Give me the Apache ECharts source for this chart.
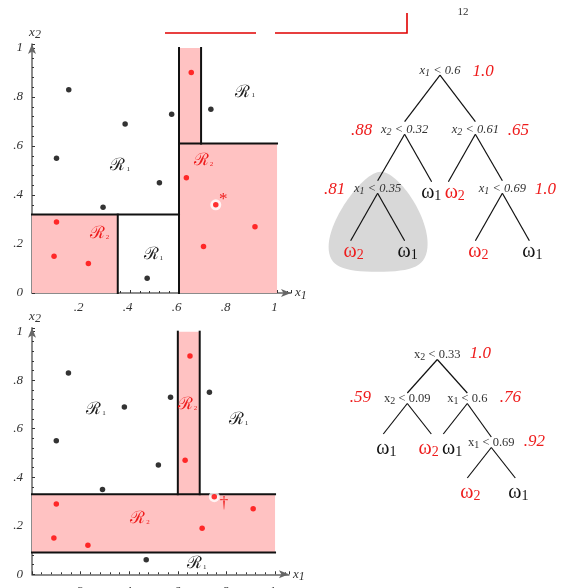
<!DOCTYPE html>
<html>
<head>
<meta charset="utf-8">
<script src="https://cdn.jsdelivr.net/npm/echarts@6/dist/echarts.min.js"></script>
<style>
  html, body { margin: 0; padding: 0; background: #fff; }
  #chart { width: 570px; height: 588px; }
</style>
</head>
<body>
<div id="chart"></div>
<script>
// ---- training samples (x1, x2) ----
const blackX = [0.15, 0.38, 0.10, 0.57, 0.73, 0.52, 0.29, 0.47];
const blackY = [0.83, 0.69, 0.55, 0.73, 0.75, 0.45, 0.35, 0.06];
const redX   = [0.65, 0.63, 0.91, 0.70, 0.10, 0.09, 0.23];
const redY   = [0.90, 0.47, 0.27, 0.19, 0.29, 0.15, 0.12];
// the one red sample that differs between the two data sets
const movedTop    = [0.75, 0.36];
const movedBottom = [0.75, 0.32];

// ---- decision regions: class-2 rectangles [x1min, x2min, x1max, x2max] ----
const regionsTop    = [[0, 0, 0.35, 0.32], [0.6, 0, 1, 0.61], [0.6, 0.61, 0.69, 1]];
const regionsBottom = [[0, 0.09, 1, 0.33], [0.6, 0.33, 0.69, 1]];
// ---- split boundaries [x1a, x2a, x1b, x2b] ----
const splitsTop = [[0, 0.32, 0.6, 0.32], [0.35, 0, 0.35, 0.32], [0.6, 0, 0.6, 1],
                   [0.6, 0.61, 1, 0.61], [0.69, 0.61, 0.69, 1]];
const splitsBottom = [[0, 0.33, 1, 0.33], [0, 0.09, 1, 0.09],
                      [0.6, 0.33, 0.6, 1], [0.69, 0.33, 0.69, 1]];
// ---- region names [x1, x2, class] ----
const regionNamesTop = [[0.87, 0.82, 1], [0.70, 0.54, 2], [0.36, 0.52, 1],
                        [0.275, 0.244, 2], [0.495, 0.155, 1]];
const regionNamesBottom = [[0.263, 0.677, 1], [0.64, 0.70, 2], [0.85, 0.636, 1],
                           [0.444, 0.23, 2], [0.678, 0.045, 1]];
const markTop    = [0.78, 0.38, '*'];
const markBottom = [0.79, 0.29, '\u2020'];

// ---- trees: split = [feature, threshold], conf = node value, leaf = class ----
const treeTop = { split: ['1', '0.6'], conf: '1.0', kids: [
  { split: ['2', '0.32'], conf: '.88', kids: [
    { split: ['1', '0.35'], conf: '.81', pruned: true, kids: [{ leaf: 2 }, { leaf: 1 }] },
    { leaf: 1 }] },
  { split: ['2', '0.61'], conf: '.65', kids: [
    { leaf: 2 },
    { split: ['1', '0.69'], conf: '1.0', kids: [{ leaf: 2 }, { leaf: 1 }] }] }
] };
const treeBottom = { split: ['2', '0.33'], conf: '1.0', kids: [
  { split: ['2', '0.09'], conf: '.59', kids: [{ leaf: 1 }, { leaf: 2 }] },
  { split: ['1', '0.6'], conf: '.76', kids: [
    { leaf: 1 },
    { split: ['1', '0.69'], conf: '.92', kids: [{ leaf: 2 }, { leaf: 1 }] }] }
] };

const SERIF = 'Liberation Serif';
const RED = '#ee1c1c';
const PINK = '#ffc2c2';
const INK = '#222';

function zip(xs, ys) { return xs.map((x, i) => [x, ys[i]]); }

function tickFmt(v, withZero) {
  const k = Math.round(v * 10);
  if (Math.abs(v * 10 - k) > 1e-6) return '';
  if (k === 0) return withZero ? '0' : '';
  if (k === 10) return '1';
  return '.' + k;
}

const nameRich = {
  a: { fontFamily: SERIF, fontStyle: 'italic', fontSize: 13, color: '#333' },
  b: { fontFamily: SERIF, fontStyle: 'italic', fontSize: 12, color: '#333', padding: [5, 0, 0, 0] }
};

function xAxisFor(g, margin) {
  return {
    type: 'value', gridIndex: g, min: 0, max: 1.057, interval: 0.2,
    axisLine: { show: true, lineStyle: { color: '#666', width: 1.5 }, symbol: ['none', 'arrow'], symbolSize: [6, 10] },
    axisTick: { show: true, inside: true, length: 3, lineStyle: { color: '#333' } },
    minorTick: { show: true, splitNumber: 5, length: 2, lineStyle: { color: '#333' } },
    splitLine: { show: false },
    axisLabel: { formatter: v => tickFmt(v, false), fontFamily: SERIF, fontStyle: 'italic', fontSize: 13,
                 color: '#333', margin, padding: [0, 5, 0, 0] },
    name: '{a|x}{b|1}', nameLocation: 'end', nameGap: 4, nameTextStyle: { rich: nameRich }
  };
}
function yAxisFor(g) {
  return {
    type: 'value', gridIndex: g, min: 0, max: 1.016, interval: 0.2,
    axisLine: { show: true, lineStyle: { color: '#666', width: 1.5 }, symbol: ['none', 'arrow'], symbolSize: [6, 10] },
    axisTick: { show: true, inside: true, length: 3, lineStyle: { color: '#333' } },
    minorTick: { show: true, splitNumber: 5, length: 2, lineStyle: { color: '#333' } },
    splitLine: { show: false },
    axisLabel: { formatter: v => tickFmt(v, true), fontFamily: SERIF, fontStyle: 'italic', fontSize: 13,
                 color: '#333', margin: 9 },
    name: '{a|x}{b|2}', nameLocation: 'end', nameGap: 3, nameTextStyle: { rich: nameRich, padding: [0, 0, 0, 6] }
  };
}

function rectSeries(g, rects) {
  return {
    type: 'custom', xAxisIndex: g, yAxisIndex: g, z: 1, silent: true, data: rects,
    renderItem: (params, api) => {
      const p0 = api.coord([api.value(0), api.value(1)]);
      const p1 = api.coord([api.value(2), api.value(3)]);
      return { type: 'rect', shape: { x: p0[0], y: p1[1], width: p1[0] - p0[0], height: p0[1] - p1[1] },
               style: { fill: PINK } };
    }
  };
}
function splitSeries(g, segs) {
  return {
    type: 'custom', xAxisIndex: g, yAxisIndex: g, z: 3, silent: true, data: segs,
    renderItem: (params, api) => {
      const a = api.coord([api.value(0), api.value(1)]);
      const b = api.coord([api.value(2), api.value(3)]);
      return { type: 'line', shape: { x1: a[0], y1: a[1], x2: b[0], y2: b[1] },
               style: { stroke: '#111', lineWidth: 2, lineCap: 'square' } };
    }
  };
}
function dotSeries(g, data, color, size, z) {
  return { type: 'scatter', xAxisIndex: g, yAxisIndex: g, data, symbol: 'circle', symbolSize: size,
           itemStyle: { color }, z, silent: true };
}
function regionNameSeries(g, names, mark) {
  const items = names.map(n => n.slice()).concat([[mark[0], mark[1], 0]]);
  return {
    type: 'custom', xAxisIndex: g, yAxisIndex: g, z: 6, silent: true, data: items.map(n => [n[0], n[1]]),
    renderItem: (params, api) => {
      const n = items[params.dataIndex];
      const p = api.coord([n[0], n[1]]);
      if (n[2] === 0) {
        return { type: 'text', x: p[0], y: p[1],
                 style: { text: mark[2], fill: RED, fontFamily: SERIF, fontSize: 17, align: 'center', verticalAlign: 'middle' } };
      }
      const col = n[2] === 2 ? RED : INK;
      return { type: 'text', x: p[0], y: p[1], style: {
        text: '{r|\u211B}{s|' + n[2] + '}', align: 'center', verticalAlign: 'middle',
        rich: {
          r: { fill: col, fontFamily: 'DejaVu Serif', fontSize: 17, verticalAlign: 'middle' },
          s: { fill: col, fontFamily: SERIF, fontSize: 7, verticalAlign: 'middle', padding: [7, 0, 0, 1] }
        } } };
    }
  };
}

// ---- tree layout: children sit one step left / right of their parent ----
function layoutTree(root, rootSpread) {
  const nodes = [], edges = [];
  (function walk(n, x, d, parent, side) {
    const idx = nodes.length;
    nodes.push({ n, x, d, side });
    if (parent >= 0) edges.push({ from: nodes[parent], to: nodes[idx] });
    if (n.kids) {
      const s = d === 0 ? rootSpread : 1;
      walk(n.kids[0], x - s, d + 1, idx, 'left');
      walk(n.kids[1], x + s, d + 1, idx, 'right');
    }
  })(root, 0, 0, -1, 'right');
  return { nodes, edges };
}

function treeSeries(g, tree, o) {
  const { nodes, edges } = layoutTree(tree, o.rootSpread);
  const out = [];
  const pruned = nodes.filter(nd => nd.n.pruned);
  if (pruned.length) {
    out.push({
      type: 'custom', xAxisIndex: g, yAxisIndex: g, z: 1, silent: true,
      data: pruned.map(nd => [nd.x, nd.d]),
      renderItem: (params, api) => {
        const c = api.coord([api.value(0), api.value(1)]);
        const P = (dx, dy) => (c[0] + dx).toFixed(1) + ',' + (c[1] + dy).toFixed(1);
        const d = 'M' + P(3, -17) + ' C' + P(20, -17) + ' ' + P(50, 25) + ' ' + P(50, 55) +
                  ' C' + P(50, 78) + ' ' + P(35, 83) + ' ' + P(0, 83) +
                  ' C' + P(-35, 83) + ' ' + P(-49, 78) + ' ' + P(-49, 58) +
                  ' C' + P(-49, 30) + ' ' + P(-14, -17) + ' ' + P(3, -17) + ' Z';
        return { type: 'path', shape: { pathData: d }, style: { fill: '#d8d8d8' } };
      }
    });
  }
  out.push({
    type: 'custom', xAxisIndex: g, yAxisIndex: g, z: 3, silent: true,
    data: edges.map(e => [e.from.x, e.from.d, e.to.x, e.to.d]),
    renderItem: (params, api) => {
      const e = edges[params.dataIndex];
      const a = api.coord([e.from.x, e.from.d]);
      const b = api.coord([e.to.x, e.to.d]);
      const end = e.to.n.leaf ? o.leafEnd : o.splitEnd;
      return { type: 'line', shape: { x1: a[0], y1: a[1] + o.apex, x2: b[0], y2: b[1] - end },
               style: { stroke: '#111', lineWidth: 1.2 } };
    }
  });
  // leaf labels: nudge apart neighbours on the same row that would overlap
  const leaves = nodes.filter(nd => nd.n.leaf);
  const unit = o.unitPx;
  leaves.forEach(nd => { nd.dx = 3; });
  leaves.forEach(a => leaves.forEach(b => {
    if (a !== b && a.d === b.d && a.x < b.x) {
      const gap = (b.x - a.x) * unit;
      if (gap < o.leafGap) { const push = (o.leafGap - gap) / 2; a.dx -= push; b.dx += push; }
    }
  }));
  const fs = o.italic ? 'italic' : 'normal';
  out.push({
    type: 'custom', xAxisIndex: g, yAxisIndex: g, z: 5, silent: true,
    data: nodes.map(nd => [nd.x, nd.d]),
    renderItem: (params, api) => {
      const nd = nodes[params.dataIndex];
      const p = api.coord([nd.x, nd.d]);
      if (nd.n.leaf) {
        const col = nd.n.leaf === 2 ? RED : '#111';
        return { type: 'text', x: p[0] + nd.dx, y: p[1] + o.leafDy, style: {
          text: '{w|\u03C9}{s|' + nd.n.leaf + '}', align: 'center', verticalAlign: 'middle',
          rich: {
            w: { fill: col, fontFamily: SERIF, fontSize: 20, verticalAlign: 'middle' },
            s: { fill: col, fontFamily: SERIF, fontSize: 14, verticalAlign: 'middle', padding: [8, 0, 0, 0] }
          } } };
      }
      const txt = '{t|x}{s|' + nd.n.split[0] + '}{t| < ' + nd.n.split[1] + '}';
      return { type: 'text', x: p[0], y: p[1], style: {
        text: txt, align: 'center', verticalAlign: 'middle',
        rich: {
          t: { fill: '#333', fontFamily: SERIF, fontStyle: fs, fontSize: 12.5, verticalAlign: 'middle' },
          s: { fill: '#333', fontFamily: SERIF, fontStyle: fs, fontSize: 10, verticalAlign: 'middle', padding: [5, 0, 0, 0] }
        } } };
    }
  });
  const splitNodes = nodes.filter(nd => !nd.n.leaf);
  out.push({
    type: 'custom', xAxisIndex: g, yAxisIndex: g, z: 5, silent: true,
    data: splitNodes.map(nd => [nd.x, nd.d]),
    renderItem: (params, api) => {
      const nd = splitNodes[params.dataIndex];
      const p = api.coord([nd.x, nd.d]);
      const dx = nd.side === 'left' ? -o.confLeft : o.confRight;
      return { type: 'text', x: p[0] + dx, y: p[1] + o.confDy, style: {
        text: nd.n.conf, fill: RED, fontFamily: SERIF, fontStyle: 'italic', fontSize: 17,
        align: 'center', verticalAlign: 'middle' } };
    }
  });
  return out;
}

const hiddenX = g => ({ type: 'value', gridIndex: g, min: -4, max: 4, show: false });
const hiddenY = g => ({ type: 'value', gridIndex: g, min: 0, max: 3, inverse: true, show: false });

const option = {
  backgroundColor: '#fff',
  animation: false,
  grid: [
    { left: 32, top: 44.1, width: 259, height: 248.9, outerBoundsMode: 'none' },
    { left: 32, top: 327.8, width: 256.9, height: 246.5, outerBoundsMode: 'none' },
    { left: 332, top: 70.7, width: 216, height: 177, outerBoundsMode: 'none' },
    { left: 341.3, top: 355, width: 192, height: 132, outerBoundsMode: 'none' }
  ],
  xAxis: [xAxisFor(0, 8), xAxisFor(1, 11), hiddenX(2), hiddenX(3)],
  yAxis: [yAxisFor(0), yAxisFor(1), hiddenY(2), hiddenY(3)],
  series: [
    rectSeries(0, regionsTop),
    splitSeries(0, splitsTop),
    dotSeries(0, zip(blackX, blackY), '#000', 5.5, 5),
    dotSeries(0, zip(redX, redY), '#ff0000', 5.5, 5),
    dotSeries(0, [movedTop], '#ffffff', 11, 5),
    dotSeries(0, [movedTop], '#ff0000', 5.5, 6),
    regionNameSeries(0, regionNamesTop, markTop),

    rectSeries(1, regionsBottom),
    splitSeries(1, splitsBottom),
    dotSeries(1, zip(blackX, blackY), '#000', 5.5, 5),
    dotSeries(1, zip(redX, redY), '#ff0000', 5.5, 5),
    dotSeries(1, [movedBottom], '#ffffff', 11, 5),
    dotSeries(1, [movedBottom], '#ff0000', 5.5, 6),
    regionNameSeries(1, regionNamesBottom, markBottom),

    ...treeSeries(2, treeTop, { rootSpread: 1.31, unitPx: 27, apex: 4.5, splitEnd: 8, leafEnd: 7, leafDy: 4,
                                leafGap: 23.5, italic: true, confLeft: 43, confRight: 43, confDy: 1 }),
    ...treeSeries(3, treeBottom, { rootSpread: 1.25, unitPx: 24, apex: 4.5, splitEnd: 6, leafEnd: 9, leafDy: 5.5,
                                   leafGap: 23.5, italic: false, confLeft: 47, confRight: 43, confDy: -1 })
  ],
  graphic: [
    { type: 'line', shape: { x1: 165, y1: 33, x2: 256, y2: 33 }, style: { stroke: '#e00000', lineWidth: 1.6 } },
    { type: 'polyline', shape: { points: [[275, 33], [407, 33], [407, 13]] }, style: { stroke: '#e00000', lineWidth: 1.6, fill: null } },
    { type: 'text', x: 463, y: 12, style: { text: '12', fill: '#333', fontFamily: SERIF, fontSize: 11, align: 'center', verticalAlign: 'middle' } }
  ]
};

const chart = echarts.init(document.getElementById('chart'), null, { renderer: 'canvas' });
chart.setOption(option);
</script>
</body>
</html>
